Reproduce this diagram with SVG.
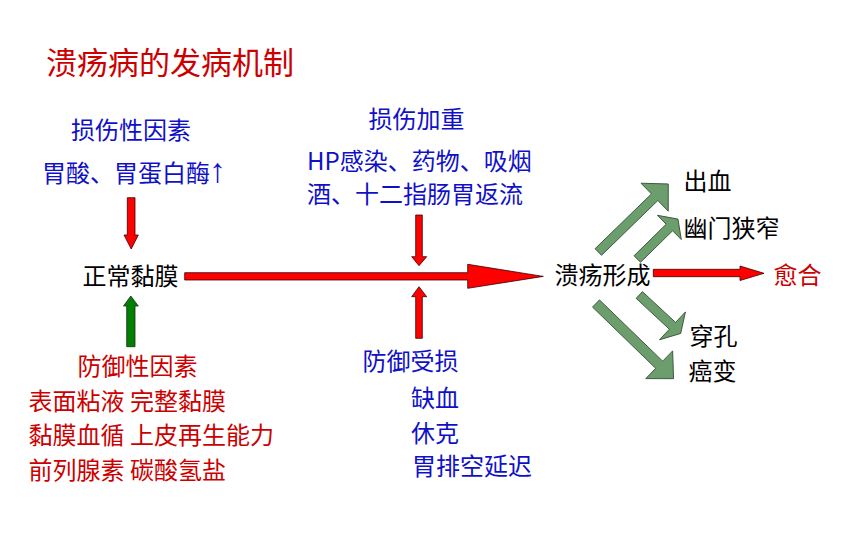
<svg xmlns="http://www.w3.org/2000/svg" width="860" height="538" viewBox="0 0 860 538">
<style>
text{font-family:"Noto Sans CJK SC","Noto Sans",sans-serif;font-size:24px}
.blue{fill:#1010c8}
.red{fill:#cc0000}
.blk{fill:#000}
.ra{fill:#ff0000;stroke:#3a0000;stroke-width:0.8}
.ga{fill:#008000;stroke:#1a2a1a;stroke-width:0.8}
.gg{fill:#6b9e6c;stroke:#3b553b;stroke-width:0.9}
</style>
<rect width="860" height="538" fill="#fff"/>
<text id="title" x="46" y="74" class="red" style="font-size:31px">溃疡病的发病机制</text>

<g id="connectors">
<polygon class="ra" points="184.7,272.7 467.7,272.7 467.7,264.3 543.3,276.4 467.7,288.3 467.7,280 184.7,280"/>
<polygon class="ra" points="127.3,197.7 135,197.7 135,235 138.3,235 131.2,249 124,235 127.3,235"/>
<polygon class="ga" points="126.7,346.7 135,346.7 135,306 138.3,306 130.8,296 123.5,306 126.7,306"/>
<polygon class="ra" points="415.7,215 422.3,215 422.3,256.7 426.7,256.7 419,265.7 411.7,256.7 415.7,256.7"/>
<polygon class="ra" points="415.7,338.3 422.3,338.3 422.3,296.7 426.7,296.7 419,286.7 411.7,296.7 415.7,296.7"/>
<polygon class="ra" points="653.3,269.3 740,269.3 740,266 764,273.3 740,280.5 740,276.7 653.3,276.7"/>
<g transform="translate(598.3,252) rotate(-44.2)"><polygon class="gg" points="0,-4.6 78.6,-4.6 78.6,-19.5 97.6,0 78.6,19.5 78.6,4.6 0,4.6"/></g>
<g transform="translate(637.3,259) rotate(-44.5)"><polygon class="gg" points="0,-4.6 45,-4.6 45,-17 57,0 45,17 45,4.6 0,4.6"/></g>
<g transform="translate(639.3,295) rotate(42.9)"><polygon class="gg" points="0,-4.6 45.3,-4.6 45.3,-19 56.5,0 45.3,19 45.3,4.6 0,4.6"/></g>
<g transform="translate(596,303.5) rotate(44.1)"><polygon class="gg" points="0,-5 88,-5 88,-19.3 108,0 88,19.3 88,5 0,5"/></g>
</g>

<g id="n-damage"><text x="71" y="138.5" class="blue">损伤性因素</text>
<text x="42" y="181.5" class="blue">胃酸、胃蛋白酶<tspan dx="-1" style="font-family:'Liberation Sans',sans-serif;font-size:34px">↑</tspan></text></g>
<g id="n-mucosa"><text x="82.5" y="285" class="blk">正常黏膜</text></g>
<g id="n-defense"><text x="77.5" y="375" class="red">防御性因素</text>
<text x="28.5" y="410" class="red">表面粘液 完整黏膜</text>
<text x="28.5" y="443.5" class="red">黏膜血循 上皮再生能力</text>
<text x="28.5" y="478.5" class="red">前列腺素 碳酸氢盐</text></g>
<g id="n-aggravate"><text x="368.5" y="127.5" class="blue">损伤加重</text>
<text x="307" y="170" class="blue">HP感染、药物、吸烟</text>
<text x="307" y="202.5" class="blue">酒、十二指肠胃返流</text></g>
<g id="n-defdamage"><text x="362.5" y="370" class="blue">防御受损</text>
<text x="411" y="407" class="blue">缺血</text>
<text x="411" y="442" class="blue">休克</text>
<text x="412" y="475" class="blue">胃排空延迟</text></g>
<g id="n-ulcer"><text x="554.5" y="283.5" class="blk">溃疡形成</text></g>
<g id="n-bleed"><text x="683.5" y="190" class="blk">出血</text></g>
<g id="n-pyloric"><text x="683.5" y="237" class="blk">幽门狭窄</text></g>
<g id="n-heal"><text x="773.5" y="283.5" class="red">愈合</text></g>
<g id="n-perf"><text x="689.5" y="345" class="blk">穿孔</text></g>
<g id="n-cancer"><text x="688.5" y="380" class="blk">癌变</text></g>
</svg>
